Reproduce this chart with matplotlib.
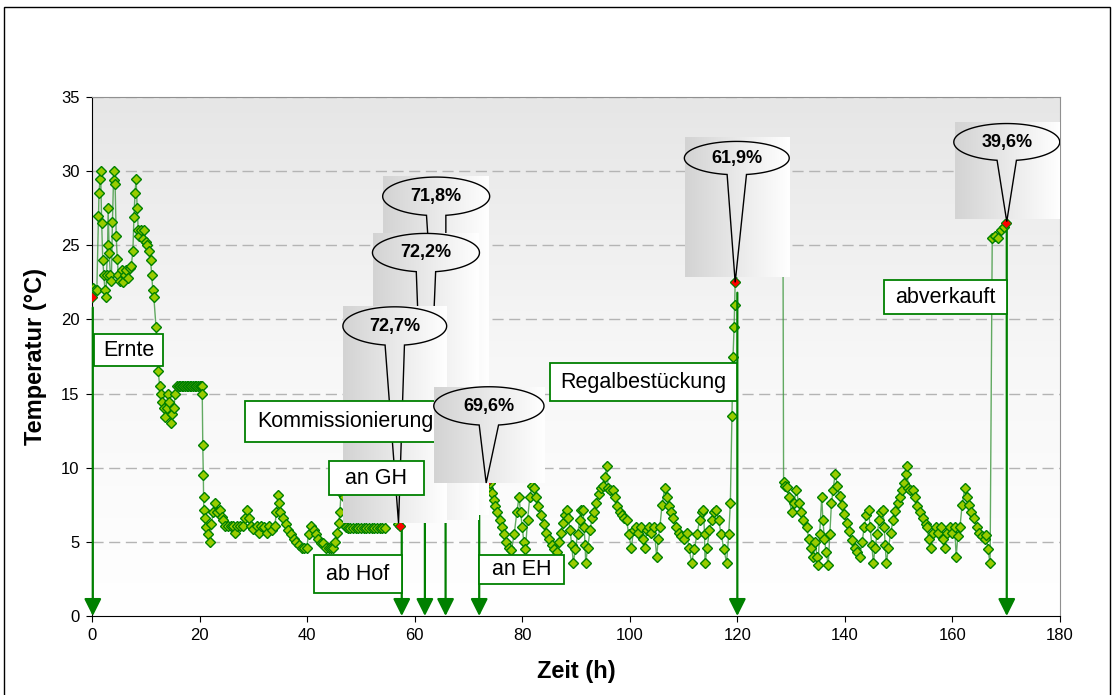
import numpy as np
import matplotlib
matplotlib.use('Agg')
from matplotlib import pyplot as plt
from matplotlib.colors import LinearSegmentedColormap
from matplotlib.patches import Rectangle, PathPatch
from matplotlib.path import Path

plt.rcParams['font.family'] = ['Liberation Sans', 'DejaVu Sans']

# Messreihe: Zeit (h) und Temperatur (°C)
zeit_h = [0.0, 0.25, 0.5, 0.9, 1.2, 1.3, 1.5, 1.6, 1.8, 2.0, 2.2, 2.4, 2.6, 2.7, 2.9, 3.0,
          3.2, 3.4, 3.6, 3.8, 4.0, 4.1, 4.3, 4.5, 4.7, 4.9, 5.2, 5.5, 5.8, 6.1, 6.4, 6.7,
          7.0, 7.3, 7.6, 7.8, 8.0, 8.2, 8.4, 8.6, 8.8, 9.1, 9.4, 9.7, 10.0, 10.3, 10.6,
          10.9, 11.1, 11.3, 11.5, 11.9, 12.3, 12.6, 12.8, 13.0, 13.3, 13.6, 13.9, 14.2,
          14.4, 14.6, 14.9, 15.2, 15.5, 15.8, 16.1, 16.4, 16.7, 17.0, 17.3, 17.6, 17.9,
          18.2, 18.5, 18.8, 19.1, 19.4, 19.7, 20.0, 20.3, 20.4, 20.5, 20.6, 20.7, 20.75,
          20.8, 21.0, 21.2, 21.5, 21.9, 22.2, 22.5, 22.9, 23.3, 23.8, 24.1, 24.4, 24.8,
          25.3, 25.8, 26.2, 26.6, 27.0, 27.5, 28.0, 28.4, 28.8, 29.2, 29.6, 30.0, 30.6,
          31.0, 31.5, 32.0, 32.5, 33.0, 33.5, 34.0, 34.3, 34.6, 34.8, 35.0, 35.5, 36.0,
          36.5, 37.0, 37.5, 38.0, 38.5, 39.0, 39.5, 39.9, 40.3, 40.8, 41.2, 41.6, 42.0,
          42.5, 43.0, 43.5, 44.0, 44.4, 44.8, 45.2, 45.6, 45.9, 46.1, 46.3, 46.8, 47.2,
          47.6, 48.0, 48.5, 49.0, 49.5, 50.0, 50.5, 51.0, 51.5, 52.0, 52.5, 53.0, 53.5,
          54.0, 54.5, 55.0, 55.6, 56.2, 56.9, 57.3, 58.0, 60.0, 62.0, 64.0, 66.0, 68.0,
          70.0, 72.0, 73.3, 73.6, 74.0, 74.3, 74.7, 75.0, 75.4, 75.8, 76.2, 76.6, 77.0,
          77.5, 78.0, 78.5, 79.0, 79.4, 79.7, 80.0, 80.3, 80.6, 81.0, 81.4, 81.8, 82.2,
          82.6, 83.0, 83.5, 84.0, 84.5, 85.0, 85.5, 86.0, 86.4, 86.8, 87.2, 87.6, 88.0,
          88.3, 88.6, 88.9, 89.2, 89.5, 89.9, 90.3, 90.7, 91.0, 91.3, 91.5, 91.7, 91.8,
          92.2, 92.6, 93.0, 93.4, 93.8, 94.2, 94.6, 95.0, 95.4, 95.7, 96.0, 96.4, 96.9,
          97.3, 97.7, 98.1, 98.5, 99.0, 99.4, 99.8, 100.3, 100.7, 101.2, 101.6, 102.0,
          102.4, 102.8, 103.2, 103.6, 104.0, 104.5, 105.0, 105.3, 105.6, 106.0, 106.5,
          106.9, 107.3, 107.7, 108.1, 108.6, 109.1, 109.6, 110.1, 110.6, 111.0, 111.5,
          112.0, 112.5, 113.0, 113.4, 113.7, 113.9, 114.0, 114.4, 114.8, 115.2, 115.6,
          116.1, 116.5, 117.0, 117.5, 118.0, 118.4, 118.7, 119.0, 119.2, 119.4, 119.5,
          119.6, 121.0, 128.5, 128.6, 128.9, 129.2, 129.6, 130.1, 130.5, 131.0, 131.4,
          131.8, 132.3, 132.9, 133.3, 133.7, 134.1, 134.5, 134.8, 135.0, 135.3, 135.7,
          135.9, 136.2, 136.5, 136.9, 137.2, 137.5, 137.8, 138.2, 138.6, 139.0, 139.4,
          139.8, 140.3, 140.8, 141.3, 141.8, 142.3, 142.8, 143.2, 143.6, 144.0, 144.4,
          144.7, 145.0, 145.3, 145.6, 146.0, 146.4, 146.8, 147.1, 147.3, 147.5, 147.7,
          148.1, 148.5, 149.0, 149.4, 149.8, 150.2, 150.6, 151.0, 151.3, 151.5, 151.8,
          152.2, 152.7, 153.1, 153.5, 154.0, 154.5, 155.0, 155.2, 155.6, 156.0, 156.4,
          156.9, 157.3, 157.8, 158.2, 158.6, 159.0, 159.5, 160.0, 160.4, 160.7, 161.0,
          161.4, 161.8, 162.3, 162.7, 163.1, 163.5, 164.0, 164.5, 165.0, 165.5, 166.0,
          166.3, 166.6, 167.0, 167.4, 168.0, 168.5, 169.0, 169.5, 170.0]
temp_c = [21.5, 22.1, 22.0, 22.0, 27.0, 28.5, 29.5, 30.0, 26.5, 24.0, 23.0, 22.0, 21.5, 23.0, 25.0, 27.5,
          24.5, 23.0, 22.6, 26.6, 29.4, 30.0, 29.1, 25.6, 24.1, 23.0, 22.6, 23.3, 22.5, 23.0, 23.3, 22.8,
          23.5, 23.6, 24.6, 26.9, 28.5, 29.5, 27.5, 26.0, 25.6, 26.0, 25.4, 26.0, 25.2, 25.0, 24.6,
          24.0, 23.0, 22.0, 21.5, 19.5, 16.5, 15.5, 15.0, 14.45, 14.0, 13.4, 14.0, 15.0,
          14.45, 13.0, 13.6, 14.0, 15.0, 15.5, 15.5, 15.5, 15.5, 15.5, 15.5, 15.5, 15.5,
          15.5, 15.5, 15.5, 15.5, 15.5, 15.5, 15.5, 15.5, 15.5, 15.0, 11.5, 9.5, 8.0,
          7.15, 6.6, 6.0, 5.5, 5.0, 6.2, 7.0, 7.6, 7.0, 7.15, 6.7, 6.5, 6.1,
          6.1, 6.1, 6.1, 5.6, 6.1, 6.1, 6.1, 6.6, 7.15, 6.6, 6.1, 5.9, 6.1,
          5.6, 6.1, 6.0, 5.6, 6.1, 5.8, 6.1, 7.0, 8.15, 7.6, 7.0, 6.6, 6.2,
          5.8, 5.5, 5.2, 5.0, 4.8, 4.6, 4.6, 4.6, 5.5, 6.1, 5.8, 5.5, 5.2,
          4.9, 4.9, 4.6, 4.6, 4.6, 4.6, 5.0, 5.6, 6.3, 7.0, 8.3, 8.0, 6.0,
          5.95, 5.95, 5.95, 5.95, 5.95, 5.95, 5.95, 5.95, 5.95, 5.95, 5.95, 5.95, 5.95,
          5.95, 5.95, 7.0, 7.2, 7.0, 6.2, 6.1, 7.5, 7.5, 7.2, 7.4, 7.5, 8.0,
          8.5, 8.8, 9.0, 8.6, 9.0, 8.3, 7.8, 7.4, 7.0, 6.5, 6.0, 5.5, 5.0,
          4.6, 4.45, 5.5, 7.0, 8.0, 7.0, 6.0, 5.0, 4.5, 6.5, 8.0, 8.8, 8.6,
          8.0, 7.4, 6.8, 6.2, 5.6, 5.2, 4.8, 4.5, 4.3, 5.0, 5.6, 6.3, 6.8,
          7.15, 6.6, 5.8, 4.8, 3.6, 4.5, 5.5, 6.5, 7.15, 7.15, 6.0, 4.8, 3.6,
          4.6, 5.8, 6.6, 7.0, 7.6, 8.2, 8.6, 8.8, 9.4, 10.1, 8.6, 8.5, 8.5,
          8.0, 7.4, 7.0, 6.8, 6.6, 6.5, 5.5, 4.6, 5.8, 6.0, 5.6, 6.0,
          5.2, 4.6, 5.8, 6.0, 5.6, 6.0, 4.0, 5.2, 6.0, 7.5, 8.6,
          8.0, 7.4, 7.0, 6.6, 6.0, 5.6, 5.4, 5.2, 5.6, 4.6, 3.6,
          4.5, 5.5, 6.5, 7.0, 7.15, 5.5, 3.6, 4.6, 5.8, 6.5, 7.0,
          7.15, 6.5, 5.5, 4.5, 3.6, 5.5, 7.6, 13.5, 17.5, 19.5, 21.0,
          22.5, 24.0, 24.0, 9.05, 8.8, 8.7, 8.0, 7.0, 7.6, 8.5, 7.6,
          7.0, 6.5, 6.0, 5.2, 4.6, 4.0, 5.0, 4.0, 3.45, 5.5, 8.05,
          6.5, 5.2, 4.3, 3.45, 5.5, 7.6, 8.5, 9.6, 8.8, 8.1, 7.5,
          6.9, 6.3, 5.7, 5.1, 4.6, 4.3, 4.0, 5.0, 6.0, 6.8, 7.15,
          6.0, 4.8, 3.55, 4.6, 5.5, 6.5, 7.0, 7.15, 6.0, 4.8, 3.55,
          4.6, 5.6, 6.5, 7.1, 7.6, 8.0, 8.5, 9.0, 9.6, 10.1, 8.6,
          8.5, 8.5, 8.0, 7.4, 7.0, 6.6, 6.2, 6.0, 5.2, 4.6, 5.6,
          6.0, 5.6, 6.0, 5.2, 4.6, 5.6, 6.0, 5.6, 6.0, 4.0, 5.4,
          6.0, 7.5, 8.6, 8.0, 7.5, 7.0, 6.6, 6.0, 5.6, 5.4, 5.2,
          5.45, 4.5, 3.55, 25.5, 25.6, 25.5, 26.0, 26.2, 26.5]

# hervorgehobene Messpunkte (rot)
rot_zeit = [0.0, 57.3, 73.3, 119.6, 170.0]
rot_temp = [21.5, 6.1, 9.0, 22.5, 26.5]

# Ereignisse entlang der Kette
ereignisse = ['Ernte', 'ab Hof', 'an GH', 'Kommissionierung', 'an EH', 'Regalbestückung', 'abverkauft']
ereignis_zeit = [0.15, 57.6, 61.9, 65.75, 72.0, 120.0, 170.1]

# Anteile in den Sprechblasen
anteile = ['71,8%', '72,2%', '72,7%', '69,6%', '61,9%', '39,6%']

fig = plt.figure(figsize=(11.19, 6.95), dpi=100)
ax = fig.add_axes([92 / 1119, 1 - 616 / 695, 968 / 1119, 519 / 695])

# Rahmen um die ganze Grafik
fig.patches.append(Rectangle((4 / 1119, -0.02), 1106 / 1119, 1 - 7 / 695 + 0.02,
                             transform=fig.transFigure, fill=False, edgecolor='black', lw=1))

# Hintergrundverlauf der Zeichenfläche
bg = LinearSegmentedColormap.from_list('bg', ['#e6e6e6', '#f7f7f7', '#ffffff'])
ax.imshow(np.linspace(0, 1, 256).reshape(-1, 1), extent=[0, 180, 0, 35], aspect='auto',
          cmap=bg, zorder=0, interpolation='bilinear')

for yv in range(5, 40, 5):
    ax.axhline(yv, color='#b4b4b4', lw=1, dashes=(8, 4), zorder=1)

ax.plot(zeit_h, temp_c, color='#3c963c', lw=1, alpha=0.8, zorder=2)
ax.plot(zeit_h, temp_c, ls='none', marker='D', ms=5, mfc='#99cc00', mec='#008000', mew=1, zorder=3)
ax.plot(rot_zeit, rot_temp, ls='none', marker='D', ms=5, mfc='#ff0000', mec='#008000', mew=0.6, zorder=4.5)

ax.set_xlim(0, 180)
ax.set_ylim(0, 35)
ax.set_xticks(range(0, 181, 20))
ax.set_yticks(range(0, 36, 5))
ax.tick_params(direction='out', length=4, labelsize=12, colors='black', pad=5)
for s in ['top', 'right']:
    ax.spines[s].set_color('#909090')
ax.set_xlabel('Zeit (h)', fontsize=17, fontweight='bold', labelpad=12)
ax.set_ylabel('Temperatur (°C)', fontsize=17, fontweight='bold', labelpad=10)

grau = LinearSegmentedColormap.from_list('grau', ['#d3d3d3', '#ffffff'])
hverlauf = np.linspace(0, 1, 256).reshape(1, -1)


def blase(box, ell, tip, text, z):
    x0, x1, y0, y1 = box
    ax.imshow(hverlauf, extent=[x0, x1, y0, y1], aspect='auto', cmap=grau, zorder=z,
              interpolation='bilinear')
    cx, cy, w, h = ell
    a, b = w / 2, h / 2
    phi = np.arcsin(1.8 / a)
    th = np.linspace(-np.pi / 2 + phi, 1.5 * np.pi - phi, 120)
    pts = np.column_stack([cx + a * np.cos(th), cy + b * np.sin(th)])
    pts = np.vstack([pts, [tip], pts[:1]])
    patch = PathPatch(Path(pts, closed=True), facecolor='none', edgecolor='black', lw=1, zorder=z + 0.02)
    ax.add_patch(patch)
    im = ax.imshow(hverlauf, extent=[cx - a, cx + a, tip[1], cy + b], aspect='auto', cmap=grau,
                   zorder=z + 0.01, interpolation='bilinear')
    im.set_clip_path(patch)
    ax.text(cx, cy, text, ha='center', va='center', fontsize=13, fontweight='bold', zorder=z + 0.03)


blase((54.1, 73.8, 6.8, 29.6), (64.0, 28.3, 19.9, 2.6), (65.8, 7.0), anteile[0], 5.0)
blase((52.25, 71.96, 6.5, 25.8), (62.1, 24.5, 19.9, 2.6), (62.0, 6.8), anteile[1], 5.1)
blase((46.7, 66.0, 6.27, 20.9), (56.3, 19.55, 19.3, 2.6), (57.0, 6.27), anteile[2], 5.2)
blase((63.6, 84.2, 8.97, 15.44), (73.8, 14.16, 20.5, 2.6), (73.3, 8.97), anteile[3], 7.0)
blase((110.3, 129.8, 22.86, 32.3), (119.9, 30.88, 19.5, 2.25), (119.6, 22.5), anteile[4], 5.0)
blase((160.5, 180.2, 26.77, 33.3), (170.1, 31.96, 19.7, 2.5), (170.1, 26.6), anteile[5], 5.0)

# Beschriftungskästen mit Pfeil zur Zeitachse
kaesten = [(0.37, 13.2, 16.86, 19.0), (41.3, 57.6, 1.55, 4.11), (44.1, 61.7, 8.16, 10.45),
           (28.45, 65.8, 11.73, 14.5), (72.0, 87.8, 2.16, 4.11), (85.2, 119.9, 14.5, 17.06),
           (147.3, 170.1, 20.36, 22.66)]
pfeil_start = [20.8, 5.8, 10.45, 14.5, 8.1, 21.8, 26.0]

for name, t, (x0, x1, y0, y1), ys in zip(ereignisse, ereignis_zeit, kaesten, pfeil_start):
    ax.add_patch(Rectangle((x0, y0), x1 - x0, y1 - y0, facecolor='white', edgecolor='#008000',
                           lw=1.3, zorder=6))
    ax.text((x0 + x1) / 2, (y0 + y1) / 2, name, ha='center', va='center', fontsize=15.5, zorder=6.1)
    ax.annotate('', xy=(t, 0), xytext=(t, ys),
                arrowprops=dict(arrowstyle='-|>', mutation_scale=26, color='#008000', lw=1.6,
                                shrinkA=0, shrinkB=0), zorder=4, annotation_clip=False)

fig.savefig('out.png', dpi=100)
